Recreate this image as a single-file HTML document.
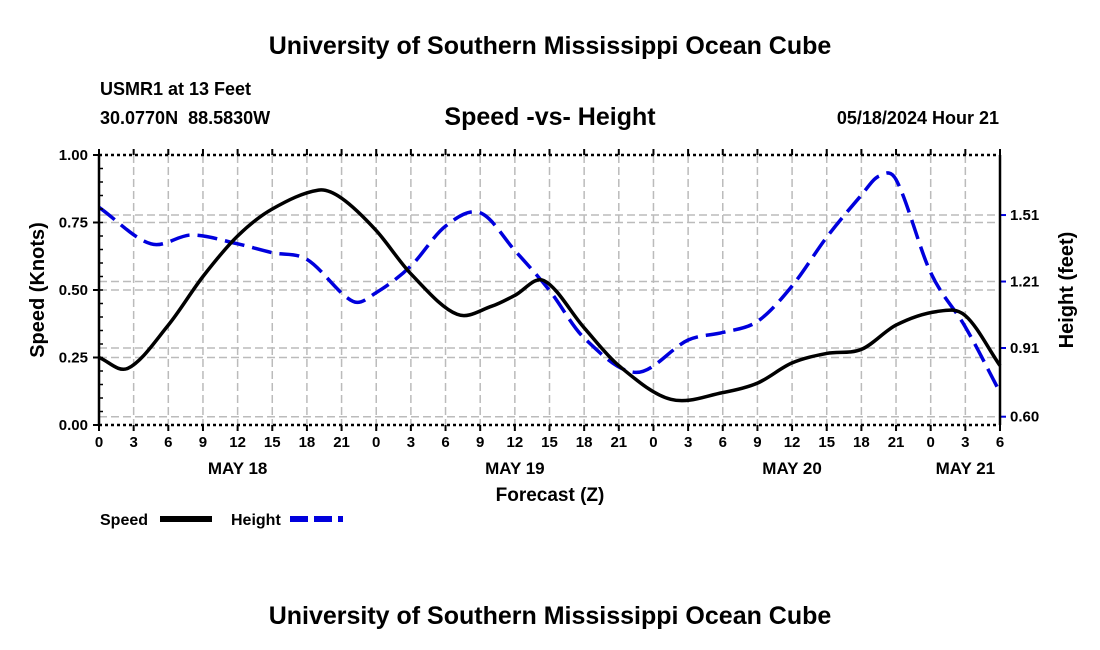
<!DOCTYPE html>
<html><head><meta charset="utf-8"><style>
body{margin:0;background:#fff;}
svg{display:block;font-family:"Liberation Sans",Arial,sans-serif;font-weight:bold;}
</style></head><body>
<svg id="chart" width="1100" height="650">
<text x="550" y="54" font-size="25" text-anchor="middle">University of Southern Mississippi Ocean Cube</text>
<text x="100" y="95" font-size="18">USMR1 at 13 Feet</text>
<text x="100" y="124" font-size="18">30.0770N&#160;&#160;88.5830W</text>
<text x="550" y="125" font-size="25" text-anchor="middle">Speed -vs- Height</text>
<text x="999" y="124" font-size="18" text-anchor="end">05/18/2024 Hour 21</text>
<g id="grid"></g><g id="series"></g><g id="axes"></g>
<text transform="translate(44,290) rotate(-90)" font-size="20" text-anchor="middle">Speed (Knots)</text>
<text transform="translate(1073,290) rotate(-90)" font-size="20" text-anchor="middle">Height (feet)</text>
<text x="550" y="501" font-size="19" text-anchor="middle">Forecast (Z)</text>
<g>
<text x="100" y="525" font-size="16">Speed</text>
<line x1="160" y1="519" x2="212" y2="519" stroke="#000" stroke-width="6"/>
<text x="231" y="525" font-size="16">Height</text>
<line x1="290" y1="519" x2="343" y2="519" stroke="#0000dd" stroke-width="6" stroke-dasharray="18,6"/>
</g>
<text x="550" y="624" font-size="25" text-anchor="middle">University of Southern Mississippi Ocean Cube</text>
</svg>
<script>
const speedHours=[0,2.5,6,9,12,15,19,21,24,27,31,34,36,38.5,42,45,49.5,54,57,60,63,66,69,72.5,75,78];
const speedValues=[0.25,0.21,0.37,0.55,0.70,0.80,0.87,0.84,0.72,0.56,0.41,0.44,0.48,0.535,0.36,0.22,0.095,0.12,0.155,0.23,0.265,0.28,0.37,0.42,0.405,0.22];
const heightHours=[0,4.5,8,12,15,18,22,24,27,30,33,36,39,42,46.5,51,54,57,60,63,66,67.5,69,72,75,78];
const heightValues=[1.545,1.38,1.42,1.38,1.34,1.31,1.12,1.16,1.28,1.46,1.52,1.35,1.17,0.955,0.80,0.946,0.98,1.03,1.19,1.41,1.60,1.685,1.67,1.25,1.005,0.71];
const xTickLabels=["0","3","6","9","12","15","18","21","0","3","6","9","12","15","18","21","0","3","6","9","12","15","18","21","0","3","6"];
const dayLabels=["MAY 18","MAY 19","MAY 20","MAY 21"];
const dayHours=[12,36,60,75];
const speedTicks=[0,0.25,0.5,0.75,1.0];
const heightTicks=[0.60,0.91,1.21,1.51];
const NS="http://www.w3.org/2000/svg";
const L=99,R=1000,T=155,B=425;
const xS=h=>L+h*(R-L)/78;
const yS=s=>B-s*(B-T);
const yH=h=>416.7-(h-0.6)*221.6;
function mk(tag,attrs,parent){const e=document.createElementNS(NS,tag);for(const k in attrs)e.setAttribute(k,attrs[k]);parent.appendChild(e);return e;}
const grid=document.getElementById('grid'),axes=document.getElementById('axes'),ser=document.getElementById('series');
xTickLabels.forEach((t,i)=>{const x=xS(i*3);
 const g=mk('line',{x1:x,y1:T,x2:x,y2:B,stroke:'#bbb','stroke-width':1.5,'stroke-dasharray':'8,4'},grid);
 
 
 const tk=mk('line',{x1:x,y1:B,x2:x,y2:B+6,stroke:'#000','stroke-width':2},axes);
 
 
 const tk2=mk('line',{x1:x,y1:T,x2:x,y2:T-6,stroke:'#000','stroke-width':2},axes);
 
 
 const tx=mk('text',{x:x,y:447,'font-size':15,'text-anchor':'middle'},axes);tx.textContent=t;
 
 
});
dayLabels.forEach((d,i)=>{const tx=mk('text',{x:xS(dayHours[i]),y:474,'font-size':17,'text-anchor':'middle'},axes);tx.textContent=d;
 
 });
speedTicks.forEach(s=>{const y=yS(s);
 if(s>0&&s<1){const g=mk('line',{x1:L,y1:y,x2:R,y2:y,stroke:'#bbb','stroke-width':1.5,'stroke-dasharray':'8,4'},grid);
 
 }
 const tk=mk('line',{x1:L-6,y1:y,x2:L,y2:y,stroke:'#000','stroke-width':2},axes);
 
 
 const tx=mk('text',{x:88,y:y+5,'font-size':15,'text-anchor':'end'},axes);tx.textContent=s.toFixed(2);
 
 });
for(let s=0.05;s<1;s+=0.05){const y=yS(s);const m=mk('line',{x1:L,y1:y,x2:L+4,y2:y,stroke:'#000','stroke-width':1.5},axes);
 
 }
heightTicks.forEach(h=>{const y=yH(h);
 const g=mk('line',{x1:L,y1:y,x2:R,y2:y,stroke:'#bbb','stroke-width':1.5,'stroke-dasharray':'8,4'},grid);
 
 
 const tk=mk('line',{x1:R,y1:y,x2:R+6,y2:y,stroke:'#0000dd','stroke-width':2},axes);
 
 
 const tx=mk('text',{x:1010,y:y+5,'font-size':15},axes);tx.textContent=h.toFixed(2);
 
 });
[[L,T,L,B,'none'],[R,T,R,B,'none'],[L,T,R,T,'3,3'],[L,B,R,B,'3,3']].forEach(a=>{
 const ln=mk('line',{x1:a[0],y1:a[1],x2:a[2],y2:a[3],stroke:'#000','stroke-width':2.5,'stroke-dasharray':a[4]},axes);
 
 });
// non-uniform cubic Hermite through data points (tangents in data space)
function curve(hs,vs,fx,fy){const n=hs.length,m=[];
 for(let i=0;i<n;i++){const a=Math.max(i-1,0),b=Math.min(i+1,n-1);m.push((vs[b]-vs[a])/(hs[b]-hs[a]));}
 let d='M'+fx(hs[0])+','+fy(vs[0]);
 for(let i=0;i<n-1;i++){const dt=hs[i+1]-hs[i];
  d+=' C'+fx(hs[i]+dt/3)+','+fy(vs[i]+m[i]*dt/3)+' '+fx(hs[i+1]-dt/3)+','+fy(vs[i+1]-m[i+1]*dt/3)+' '+fx(hs[i+1])+','+fy(vs[i+1]);}
 return d;}
const hp=mk('path',{d:curve(heightHours,heightValues,xS,yH),fill:'none',stroke:'#0000dd','stroke-width':3.5,'stroke-dasharray':'20,8'},ser);


const sp=mk('path',{d:curve(speedHours,speedValues,xS,yS),fill:'none',stroke:'#000','stroke-width':3.5},ser);


</script>
</body></html>
